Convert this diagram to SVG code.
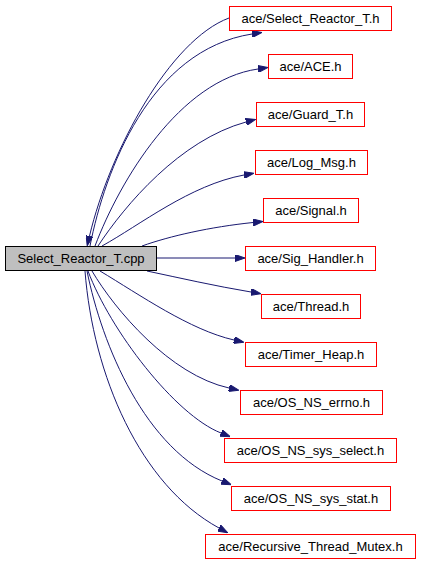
<svg xmlns="http://www.w3.org/2000/svg" width="421" height="563" viewBox="0 0 421 563">
<style>
.n rect{fill:#ffffff;stroke:#ff0000;stroke-width:1}
#main rect{fill:#bfbfbf;stroke:#000000}
text{font-family:"Liberation Sans",Arial,sans-serif;font-size:13px;fill:#000000;text-anchor:middle}
#edges path{fill:none;stroke:#191970;stroke-width:1;marker-end:url(#ah)}
</style>
<defs>
<marker id="ah" viewBox="0 0 10 7" refX="0" refY="3.5" markerWidth="10" markerHeight="7" markerUnits="userSpaceOnUse" orient="auto">
<path d="M0,0 L10,3.5 L0,7 z" fill="#191970" stroke="#191970" stroke-width="1"/>
</marker>
</defs>
<rect x="0" y="0" width="421" height="563" fill="#ffffff"/>
<g id="edges">
<path d="M229,18 C170,40 110,150 89.5,236"/>
<path d="M90,246 C105,170 150,50 252,34"/>
<path d="M95,246 C120,180 180,80 258,69"/>
<path d="M98,246 C125,205 180,140 246,122"/>
<path d="M102,246 C140,225 190,185 244,175"/>
<path d="M142,246 C170,236 210,227 253,222.5"/>
<path d="M157,258 L235,258"/>
<path d="M147,271 C180,278 215,286 251,292"/>
<path d="M100,271 C140,295 190,330 234,340"/>
<path d="M92,271 C115,310 170,375 229,388"/>
<path d="M88,271 C110,330 175,415 221,433"/>
<path d="M87,271 C102,345 145,450 222,481"/>
<path d="M85,271 C93,375 140,485 219,528"/>
</g>
<g id="main" class="n"><rect x="5.5" y="246.5" width="151" height="24"/><text x="81" y="263">Select_Reactor_T.cpp</text></g>
<g id="n1" class="n"><rect x="229.5" y="6.5" width="162" height="24"/><text x="310.5" y="23">ace/Select_Reactor_T.h</text></g>
<g id="n2" class="n"><rect x="268.5" y="54.5" width="84" height="24"/><text x="310.5" y="71">ace/ACE.h</text></g>
<g id="n3" class="n"><rect x="256.5" y="102.5" width="108" height="24"/><text x="310.5" y="119">ace/Guard_T.h</text></g>
<g id="n4" class="n"><rect x="255.5" y="150.5" width="112" height="24"/><text x="311.5" y="167">ace/Log_Msg.h</text></g>
<g id="n5" class="n"><rect x="263.5" y="198.5" width="95" height="24"/><text x="311" y="215">ace/Signal.h</text></g>
<g id="n6" class="n"><rect x="245.5" y="246.5" width="130" height="24"/><text x="310.5" y="263">ace/Sig_Handler.h</text></g>
<g id="n7" class="n"><rect x="261.5" y="294.5" width="99" height="24"/><text x="311" y="311">ace/Thread.h</text></g>
<g id="n8" class="n"><rect x="245.5" y="342.5" width="131" height="24"/><text x="311" y="359">ace/Timer_Heap.h</text></g>
<g id="n9" class="n"><rect x="240.5" y="390.5" width="142" height="24"/><text x="311.5" y="407">ace/OS_NS_errno.h</text></g>
<g id="n10" class="n"><rect x="224.5" y="438.5" width="172" height="24"/><text x="310.5" y="455">ace/OS_NS_sys_select.h</text></g>
<g id="n11" class="n"><rect x="231.5" y="486.5" width="159" height="24"/><text x="311" y="503">ace/OS_NS_sys_stat.h</text></g>
<g id="n12" class="n"><rect x="205.5" y="534.5" width="210" height="24"/><text x="310.5" y="551">ace/Recursive_Thread_Mutex.h</text></g>
</svg>
